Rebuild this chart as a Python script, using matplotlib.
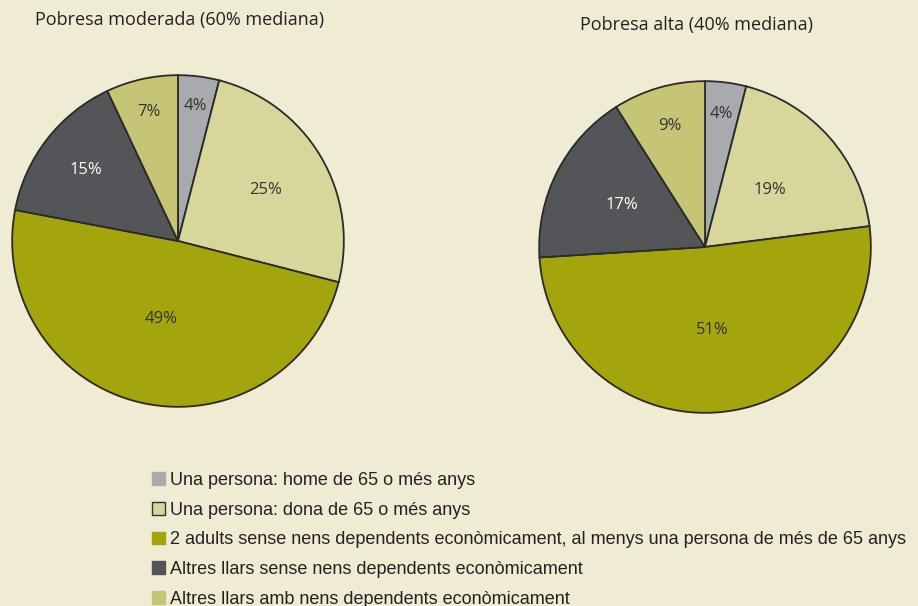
import matplotlib
matplotlib.use("Agg")
import matplotlib.pyplot as plt
from matplotlib.patches import Patch
import numpy as np

categories = [
    "Una persona: home de 65 o més anys",
    "Una persona: dona de 65 o més anys",
    "2 adults sense nens dependents econòmicament, al menys una persona de més de 65 anys",
    "Altres llars sense nens dependents econòmicament",
    "Altres llars amb nens dependents econòmicament",
]
moderada = [4, 25, 49, 15, 7]
alta = [4, 19, 51, 17, 9]
titles = ["Pobresa moderada (60% mediana)", "Pobresa alta (40% mediana)"]

colors = ["#a9aaae", "#d7d79b", "#a4a40d", "#545558", "#c6c575"]
label_colors = ["#333333", "#333333", "#333333", "#ffffff", "#333333"]
bg = "#efecd3"

W, H = 918, 606
fig = plt.figure(figsize=(W / 100, H / 100), dpi=100, facecolor=bg)

def add_pie(cx, cy, r, values, label_r):
    ax = fig.add_axes([(cx - r) / W, (H - cy - r) / H, 2 * r / W, 2 * r / H])
    ax.set_facecolor("none")
    wedges, texts = ax.pie(values, colors=colors, startangle=90, counterclock=False,
                           radius=1, wedgeprops=dict(edgecolor="#2a2a2a", linewidth=1.3),
                           labels=[f"{v}%" for v in values], labeldistance=0.5,
                           textprops=dict(fontsize=12, family="Open Sans",
                                          ha="center", va="center"))
    for w, t, d, tc in zip(wedges, texts, label_r, label_colors):
        ang = np.deg2rad((w.theta1 + w.theta2) / 2)
        t.set_position((d * np.cos(ang), d * np.sin(ang)))
        t.set_ha("center"); t.set_va("center")
        t.set_color(tc)
    ax.set_xlim(-1.01, 1.01)
    ax.set_ylim(-1.01, 1.01)
    ax.set_aspect("auto")
    ax.axis("off")
    return ax

add_pie(178, 241, 167.5, moderada, [0.82, 0.61, 0.48, 0.70, 0.80])
add_pie(705, 247, 167.5, alta, [0.81, 0.52, 0.50, 0.56, 0.76])

fig.text(35 / W, 1 - 20 / H, titles[0], fontsize=13, family="Open Sans",
         color="#222222", ha="left", va="center")
fig.text(580 / W, 1 - 25 / H, titles[1], fontsize=13, family="Open Sans",
         color="#222222", ha="left", va="center")

handles = []
for i, (c, lab) in enumerate(zip(colors, categories)):
    ec = "#333333" if i == 1 else c
    handles.append(Patch(facecolor=c, edgecolor=ec, linewidth=1.0, label=lab))
leg = fig.legend(handles=handles, loc="upper left",
                 bbox_to_anchor=(152 / W, 1 - 472 / H),
                 frameon=False, handlelength=0.7, handleheight=0.7,
                 handletextpad=0.3, labelspacing=0.70,
                 prop=dict(family="Liberation Sans", size=13), borderaxespad=0,
                 borderpad=0)
for t in leg.get_texts():
    t.set_color("#222222")

fig.savefig("out.png", dpi=100, facecolor=bg)
